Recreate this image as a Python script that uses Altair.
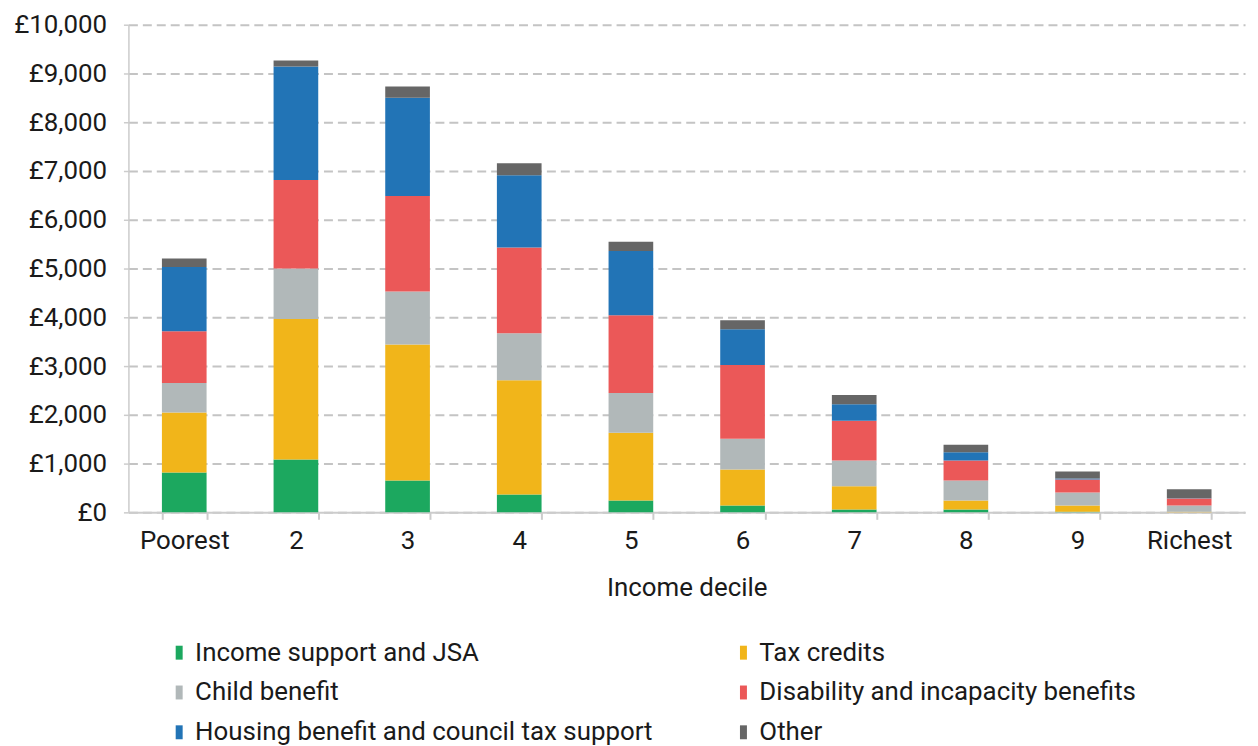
import altair as alt
import pandas as pd

deciles = ["Poorest", "2", "3", "4", "5", "6", "7", "8", "9", "Richest"]
series = [
    "Income support and JSA",
    "Tax credits",
    "Child benefit",
    "Disability and incapacity benefits",
    "Housing benefit and council tax support",
    "Other",
]
colors = ["#1CA85F", "#F1B51A", "#B1B8B9", "#EB5858", "#2274B6", "#666666"]

income_support = [816, 1082, 653, 367, 245, 143, 61, 61, 10, 0]
tax_credits = [1231, 2884, 2790, 2341, 1388, 735, 476, 184, 133, 10]
child_benefit = [606, 1034, 1088, 965, 816, 632, 524, 408, 265, 133]
disability = [1061, 1816, 1959, 1756, 1592, 1510, 817, 408, 265, 143]
housing = [1320, 2327, 2013, 1483, 1320, 735, 340, 170, 21, 5]
other = [170, 122, 232, 245, 190, 184, 190, 157, 143, 183]

values = [income_support, tax_credits, child_benefit, disability, housing, other]

rows = []
for si, (name, vals) in enumerate(zip(series, values)):
    for d, v in zip(deciles, vals):
        rows.append({"decile": d, "series": name, "value": v, "order": si})
df = pd.DataFrame(rows)

# the legend fills its two columns top-to-bottom, so list entries column by column
legend_order = [series[0], series[2], series[4], series[1], series[3], series[5]]
legend_colors = [colors[series.index(s)] for s in legend_order]

FONT = "Roboto"
FS = 26

chart = (
    alt.Chart(df)
    .mark_bar()
    .encode(
        x=alt.X(
            "decile:N",
            sort=deciles,
            title="Income decile",
            scale=alt.Scale(paddingInner=0.6, paddingOuter=0.3),
            axis=alt.Axis(
                labelAngle=0,
                tickBand="extent",
                domainColor="#cccccc",
                domainWidth=2,
                tickColor="#cccccc",
                tickWidth=2,
                tickSize=7,
                labelPadding=8,
                titlePadding=22,
                grid=False,
            ),
        ),
        y=alt.Y(
            "value:Q",
            stack="zero",
            title=None,
            scale=alt.Scale(domain=[0, 10000]),
            axis=alt.Axis(
                values=list(range(0, 10001, 1000)),
                labelExpr="'£' + format(datum.value, ',')",
                gridDash=[9, 5],
                gridColor="#c4c4c4",
                gridWidth=2,
                domainColor="#cccccc",
                domainWidth=1.5,
                tickColor="#cccccc",
                tickWidth=1.5,
                tickSize=5,
                labelPadding=17,
            ),
        ),
        color=alt.Color(
            "series:N",
            scale=alt.Scale(domain=legend_order, range=legend_colors),
            legend=alt.Legend(
                title=None,
                orient="none",
                legendX=38,
                legendY=618,
                columns=2,
                symbolType="M-0.5,-1H0.5V1H-0.5Z",
                symbolSize=196,
                symbolStrokeWidth=0,
                labelOffset=3,
                rowPadding=14,
                columnPadding=78,
                labelLimit=700,
            ),
        ),
        order=alt.Order("order:Q", sort="ascending"),
    )
    .properties(
        width=1122,
        height=490,
        padding={"left": 5, "top": 2, "right": 5, "bottom": 5},
    )
    .configure_view(stroke=None)
    .configure_axis(
        labelFont=FONT,
        titleFont=FONT,
        labelFontSize=FS,
        titleFontSize=FS,
        labelColor="#1a1a1a",
        titleColor="#1a1a1a",
        titleFontWeight="normal",
    )
    .configure_legend(labelFont=FONT, labelFontSize=FS, labelColor="#1a1a1a")
)

chart.save("out.html", embed_options={"renderer": "svg", "actions": False})
